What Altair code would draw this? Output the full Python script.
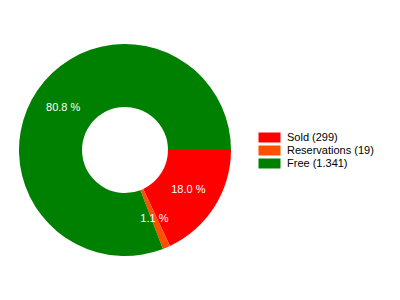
import math
import altair as alt
import pandas as pd

categories = ["Sold (299)", "Reservations (19)", "Free (1.341)"]
values = [299, 19, 1341]
pct_labels = ["18.0 %", "1.1 %", "80.8 %"]
colors = ["#FF0000", "#FF5000", "#008000"]

df = pd.DataFrame({
    "cat": categories,
    "value": values,
    "pct": pct_labels,
    "ord": list(range(len(categories))),
})

theta = alt.Theta("value:Q", stack=True,
                  scale=alt.Scale(range=[math.pi / 2, math.pi / 2 + 2 * math.pi]))
order = alt.Order("ord:Q")

arcs = alt.Chart(df).mark_arc(innerRadius=43, outerRadius=106).encode(
    theta=theta,
    order=order,
    x=alt.value(125),
    y=alt.value(150),
    color=alt.Color(
        "cat:N",
        sort=categories,
        scale=alt.Scale(domain=categories, range=colors),
        legend=alt.Legend(
            title=None,
            orient="none",
            legendX=264,
            legendY=132,
            padding=0,
            symbolType="M-2.2,-1H2.2V1H-2.2Z",
            symbolSize=100,
            symbolStrokeWidth=0,
            labelFont="Liberation Sans",
            labelFontSize=11,
            labelColor="#000000",
            labelOffset=12,
            rowPadding=1,
        ),
    ),
)

texts = alt.Chart(df).mark_text(
    radius=75, font="Liberation Sans", fontSize=11, color="#FFFFFF",
    align="center", baseline="middle"
).encode(
    theta=theta,
    order=order,
    x=alt.value(125),
    y=alt.value(150),
    text="pct:N",
)

chart = alt.layer(arcs, texts).properties(
    width=400, height=300, padding=0,
    autosize=alt.AutoSizeParams(type="none"),
    background="#FFFFFF",
).configure_view(strokeWidth=0)

chart.save("out.html", embed_options={"renderer": "svg", "actions": False})
